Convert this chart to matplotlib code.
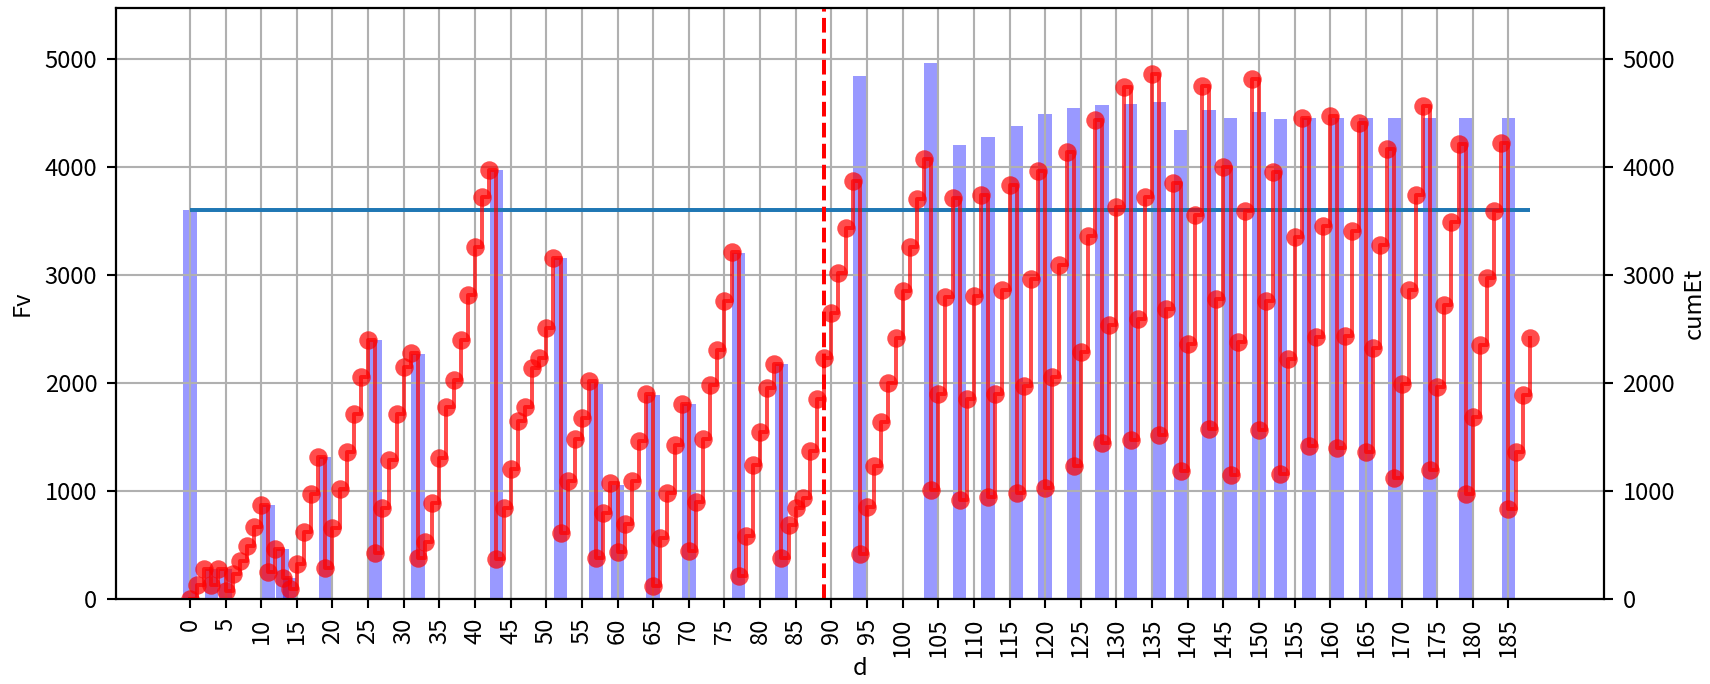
import matplotlib
matplotlib.use("Agg")
import matplotlib.pyplot as plt
import numpy as np

plt.rcParams['font.family'] = ['Noto Sans CJK JP', 'DejaVu Sans']
plt.rcParams['font.size'] = 9

# ---- data ----
days = list(range(0, 189))
cum_et = [
    0, 133, 275, 133, 275, 73, 234, 350, 490, 670,
    872, 248, 464, 194, 93, 323, 626, 969, 1315, 290,
    658, 1022, 1365, 1715, 2052, 2398, 428, 840, 1285, 1715,
    2152, 2280, 382, 533, 888, 1303, 1778, 2028, 2400, 2819,
    3262, 3724, 3972, 375, 840, 1204, 1647, 1778, 2139, 2231,
    2512, 3157, 614, 1095, 1483, 1673, 2020, 380, 800, 1073,
    434, 698, 1091, 1460, 1900, 121, 562, 985, 1424, 1808,
    447, 896, 1478, 1985, 2306, 2757, 3210, 212, 583, 1240,
    1548, 1950, 2178, 380, 690, 844, 940, 1373, 1852, 2234,
    2645, 3016, 3431, 3870, 417, 852, 1231, 1637, 2002, 2413,
    2849, 3262, 3699, 4073, 1008, 1896, 2796, 3711, 922, 1857,
    2804, 3742, 950, 1903, 2865, 3835, 981, 1970, 2965, 3965,
    1029, 2060, 3091, 4136, 1231, 2290, 3357, 4430, 1444, 2535,
    3632, 4737, 1475, 2593, 3725, 4860, 1517, 2681, 3848, 1183,
    2362, 3558, 4750, 1571, 2778, 4003, 1153, 2383, 3594, 4809,
    1562, 2760, 3955, 1160, 2224, 3352, 4449, 1421, 2430, 3452,
    4470, 1396, 2434, 3411, 4405, 1365, 2320, 3282, 4170, 1126,
    1989, 2857, 3739, 4562, 1191, 1964, 2724, 3493, 4211, 973,
    1690, 2355, 2976, 3593, 4219, 836, 1360, 1888, 2418,
]
fv_days = [0, 3, 5, 11, 13, 14, 19, 26, 32, 43, 52, 57, 60, 65, 70, 77, 83,
           94, 104, 108, 112, 116, 120, 124, 128, 132, 136, 139, 143, 146,
           150, 153, 157, 161, 165, 169, 174, 179, 185]
fv_vals = [3600, 275, 275, 870, 464, 194, 1312, 2397, 2272, 3972, 3153, 2012,
           1059, 1894, 1809, 3206, 2175, 4840, 4966, 4206, 4278, 4375, 4494,
           4541, 4569, 4581, 4597, 4338, 4528, 4450, 4512, 4441, 4450, 4450,
           4450, 4450, 4450, 4450, 4450]
threshold = 3600
split_day = 89
xticks = list(range(0, 186, 5))
yticks = [0, 1000, 2000, 3000, 4000, 5000]

# ---- figure ----
fig, ax1 = plt.subplots(figsize=(9, 3.6), dpi=190)
fig.subplots_adjust(left=0.0677, right=0.938, bottom=0.124, top=0.989)

ax1.bar(fv_days, fv_vals, width=1.9, color='b', alpha=0.4)
ax1.hlines(threshold, days[0], days[-1], color='#1f77b4', lw=1.5)
ax1.grid(True)
ax1.set_ylabel('Fv')
ax1.set_xlabel('d', labelpad=0)
ax1.set_xticks(xticks)
ax1.set_xticklabels([str(t) for t in xticks], rotation=90)
ax1.set_yticks(yticks)
ylim = (0, 5475)
ax1.set_ylim(ylim)
ax1.set_xlim(-10.4, 198.4)

ax2 = ax1.twinx()
ax2.plot(days, cum_et, color='red', alpha=0.7, marker='o', markersize=7,
         markeredgewidth=0, lw=1.5, drawstyle='steps-post')
ax2.axvline(split_day, color='red', linestyle='--', lw=1.5)
ax2.set_ylim(ylim)
ax2.set_yticks(yticks)
ax2.set_ylabel('cumEt', labelpad=3)

fig.savefig('out.png', dpi=190)
